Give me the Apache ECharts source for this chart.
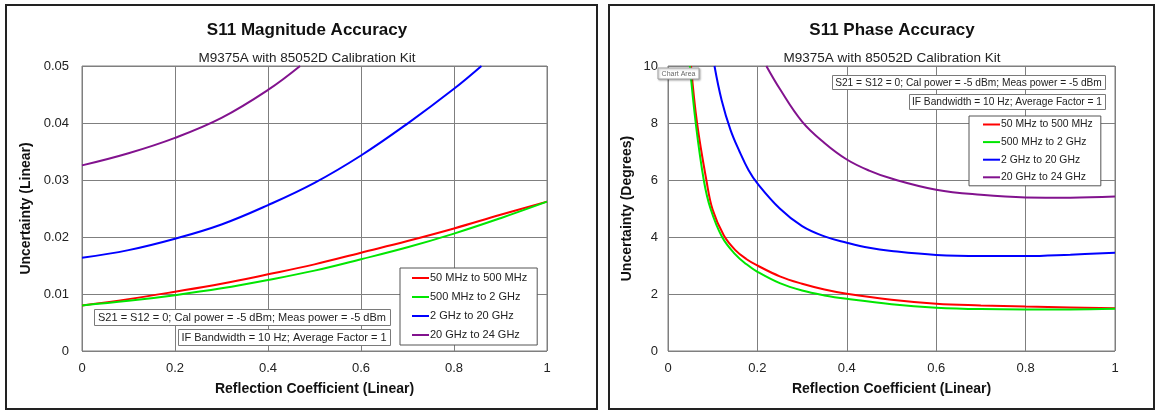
<!DOCTYPE html>
<html>
<head>
<meta charset="utf-8">
<script src="https://cdn.jsdelivr.net/npm/echarts@6/dist/echarts.min.js"></script>
<style>
html,body{margin:0;padding:0;background:#fff;}
#c{width:1156px;height:411px;}
</style>
</head>
<body>
<div id="c"></div>
<script>
// ---------- DATA ----------
var seriesNames = ['50 MHz to 500 MHz', '500 MHz to 2 GHz', '2 GHz to 20 GHz', '20 GHz to 24 GHz'];

// S11 Magnitude Accuracy (linear)
var magRedX    = [0, 0.1, 0.2, 0.3, 0.4, 0.5, 0.6, 0.7, 0.8, 0.9, 1.0];
var magRedY    = [0.0080, 0.0091, 0.0104, 0.0118, 0.01345, 0.0152, 0.01725, 0.0193, 0.0215, 0.0239, 0.0262];
var magGreenX  = [0, 0.1, 0.2, 0.3, 0.4, 0.5, 0.6, 0.7, 0.8, 0.9, 1.0];
var magGreenY  = [0.0080, 0.0088, 0.0098, 0.0110, 0.01246, 0.0141, 0.0161, 0.0182, 0.0206, 0.0233, 0.0262];
var magBlueX   = [0, 0.1, 0.2, 0.3, 0.4, 0.5, 0.6, 0.7, 0.8, 0.859];
var magBlueY   = [0.01637, 0.0177, 0.0197, 0.0222, 0.0256, 0.0295, 0.0343, 0.0399, 0.0460, 0.0500];
var magPurpleX = [0, 0.1, 0.2, 0.3, 0.4, 0.469];
var magPurpleY = [0.03257, 0.0347, 0.0374, 0.0409, 0.0458, 0.0500];

// S11 Phase Accuracy (degrees)
var phRedX    = [0.0515, 0.065, 0.0858, 0.1, 0.125, 0.15, 0.175, 0.2, 0.25, 0.3, 0.35, 0.4, 0.5, 0.6, 0.7, 0.8, 0.9, 1.0];
var phRedY    = [10, 8, 6, 4.95, 4.05, 3.55, 3.23, 3.0, 2.62, 2.36, 2.16, 2.01, 1.8, 1.66, 1.6, 1.56, 1.53, 1.50];
var phGreenX  = [0.049, 0.062, 0.080, 0.095, 0.121, 0.15, 0.175, 0.2, 0.25, 0.3, 0.35, 0.4, 0.5, 0.6, 0.7, 0.8, 0.9, 1.0];
var phGreenY  = [10, 8, 6, 5, 4, 3.4, 3.05, 2.78, 2.38, 2.12, 1.95, 1.83, 1.64, 1.52, 1.47, 1.46, 1.46, 1.48];
var phBlueX   = [0.104, 0.12, 0.14, 0.16, 0.18, 0.2, 0.25, 0.3, 0.35, 0.4, 0.45, 0.5, 0.6, 0.7, 0.8, 0.9, 1.0];
var phBlueY   = [10, 8.8, 7.75, 7.0, 6.35, 5.88, 5.0, 4.38, 4.02, 3.80, 3.62, 3.51, 3.37, 3.33, 3.33, 3.38, 3.45];
var phPurpleX = [0.22, 0.25, 0.3, 0.35, 0.4, 0.45, 0.5, 0.6, 0.7, 0.8, 0.9, 1.0];
var phPurpleY = [10, 9.2, 8.05, 7.3, 6.72, 6.33, 6.05, 5.66, 5.48, 5.39, 5.38, 5.42];

var noteLine1 = 'S21 = S12 = 0; Cal power = -5 dBm; Meas power = -5 dBm';
var noteLine2 = 'IF Bandwidth = 10 Hz; Average Factor = 1';

// ---------- BUILD ----------
function zip(xs, ys) { return xs.map(function (x, i) { return [x, ys[i]]; }); }
var colors = ['#ff0000', '#00e600', '#0000ff', '#82128e'];
var FONT = '"Liberation Sans", Arial, sans-serif';

function mkSeries(name, data, color, idx) {
  return {
    type: 'line', name: name, data: data, xAxisIndex: idx, yAxisIndex: idx,
    smooth: 0.4, showSymbol: false, symbol: 'none',
    lineStyle: { color: color, width: 2 }, itemStyle: { color: color },
    clip: true, animation: false
  };
}

var gridLine = { show: true, lineStyle: { color: '#7f7f7f', width: 1 } };
var axisLabelStyle = { color: '#222', fontSize: 13, fontFamily: FONT };
var nameStyle = { color: '#111', fontSize: 14, fontWeight: 'bold', fontFamily: FONT };

function xAxis(gi) {
  return {
    type: 'value', gridIndex: gi, min: 0, max: 1, interval: 0.2,
    name: 'Reflection Coefficient (Linear)', nameLocation: 'middle', nameGap: 31,
    nameTextStyle: nameStyle,
    axisLine: { show: false }, axisTick: { show: false },
    axisLabel: Object.assign({ margin: 11, formatter: function (v) { return String(+v.toFixed(1)); } }, axisLabelStyle),
    splitLine: gridLine
  };
}

function noteBox(x1, y1, x2, y2, text, fs) {
  return [
    { type: 'rect', shape: { x: x1 + 0.5, y: y1 + 0.5, width: x2 - x1, height: y2 - y1 },
      style: { fill: '#fff', stroke: '#7a7a7a', lineWidth: 1 }, z: 50 },
    { type: 'text', x: (x1 + x2) / 2, y: (y1 + y2) / 2 + 1, z: 51,
      style: { text: text, font: fs + 'px ' + FONT, fill: '#222', textAlign: 'center', textVerticalAlign: 'middle' } }
  ];
}

var graphics = [
  { type: 'rect', shape: { x: 6, y: 5, width: 591, height: 404 }, style: { fill: 'none', stroke: '#222', lineWidth: 2 }, z: 0 },
  { type: 'rect', shape: { x: 609, y: 5, width: 545, height: 404 }, style: { fill: 'none', stroke: '#222', lineWidth: 2 }, z: 0 }
]
  .concat(noteBox(94, 309, 390, 325, noteLine1, 11))
  .concat(noteBox(178, 329, 390, 345, noteLine2, 11))
  .concat(noteBox(832, 75, 1105, 89, noteLine1, 10.2))
  .concat(noteBox(909, 94, 1105, 109, noteLine2, 10.2))
  .concat([
    { type: 'rect', shape: { x: 658, y: 68, width: 41, height: 11 },
      style: { fill: '#fff', stroke: '#a0a0a0', lineWidth: 1, shadowBlur: 2, shadowColor: 'rgba(0,0,0,0.3)', shadowOffsetX: 1, shadowOffsetY: 1 }, z: 60 },
    { type: 'text', x: 678.5, y: 74, z: 61,
      style: { text: 'Chart Area', font: '7px ' + FONT, fill: '#666', textAlign: 'center', textVerticalAlign: 'middle' } }
  ]);

function legend(left, top, pad, gap, fs, lh) {
  return {
    data: seriesNames, orient: 'vertical', left: left, top: top,
    backgroundColor: '#fff', borderColor: '#555', borderWidth: 1, padding: pad,
    itemGap: gap, itemWidth: 17, itemHeight: 2, icon: 'rect', selectedMode: false,
    textStyle: { fontSize: fs, fontFamily: FONT, color: '#222', lineHeight: lh, padding: [0, 0, 0, -4] },
    z: 40
  };
}

var option = {
  animation: false,
  backgroundColor: '#fff',
  title: [
    { text: 'S11 Magnitude Accuracy', left: 302, top: 17, textAlign: 'center',
      textStyle: { fontSize: 17, fontWeight: 'bold', color: '#111', fontFamily: FONT } },
    { text: 'M9375A with 85052D Calibration Kit', left: 302, top: 46, textAlign: 'center',
      textStyle: { fontSize: 13.5, fontWeight: 'normal', color: '#222', fontFamily: FONT } },
    { text: 'S11 Phase Accuracy', left: 887, top: 17, textAlign: 'center',
      textStyle: { fontSize: 17, fontWeight: 'bold', color: '#111', fontFamily: FONT } },
    { text: 'M9375A with 85052D Calibration Kit', left: 887, top: 46, textAlign: 'center',
      textStyle: { fontSize: 13.5, fontWeight: 'normal', color: '#222', fontFamily: FONT } }
  ],
  legend: [
    legend(400, 268, [3, 10, 3, 12], 5, 11, 14),
    legend(969, 116, [2, 8, 2, 14], 4.6, 10.4, 13)
  ],
  grid: [
    { left: 82, right: 609, top: 66, bottom: 60, show: true, borderColor: '#7f7f7f', borderWidth: 1, backgroundColor: '#fff' },
    { left: 668, right: 41, top: 66, bottom: 60, show: true, borderColor: '#7f7f7f', borderWidth: 1, backgroundColor: '#fff' }
  ],
  xAxis: [xAxis(0), xAxis(1)],
  yAxis: [
    { type: 'value', gridIndex: 0, min: 0, max: 0.05, interval: 0.01,
      name: 'Uncertainty (Linear)', nameLocation: 'middle', nameGap: 49, nameTextStyle: nameStyle,
      axisLine: { show: false }, axisTick: { show: false },
      axisLabel: Object.assign({ margin: 13, formatter: function (v) { return String(+v.toFixed(2)); } }, axisLabelStyle),
      splitLine: gridLine },
    { type: 'value', gridIndex: 1, min: 0, max: 10, interval: 2,
      name: 'Uncertainty (Degrees)', nameLocation: 'middle', nameGap: 34, nameTextStyle: nameStyle,
      axisLine: { show: false }, axisTick: { show: false },
      axisLabel: Object.assign({ margin: 10 }, axisLabelStyle),
      splitLine: gridLine }
  ],
  series: [
    mkSeries(seriesNames[0], zip(magRedX, magRedY), colors[0], 0),
    mkSeries(seriesNames[1], zip(magGreenX, magGreenY), colors[1], 0),
    mkSeries(seriesNames[2], zip(magBlueX, magBlueY), colors[2], 0),
    mkSeries(seriesNames[3], zip(magPurpleX, magPurpleY), colors[3], 0),
    mkSeries(seriesNames[0], zip(phRedX, phRedY), colors[0], 1),
    mkSeries(seriesNames[1], zip(phGreenX, phGreenY), colors[1], 1),
    mkSeries(seriesNames[2], zip(phBlueX, phBlueY), colors[2], 1),
    mkSeries(seriesNames[3], zip(phPurpleX, phPurpleY), colors[3], 1)
  ],
  graphic: graphics
};

var chart = echarts.init(document.getElementById('c'), null, { renderer: 'canvas' });
chart.setOption(option);
</script>
</body>
</html>
